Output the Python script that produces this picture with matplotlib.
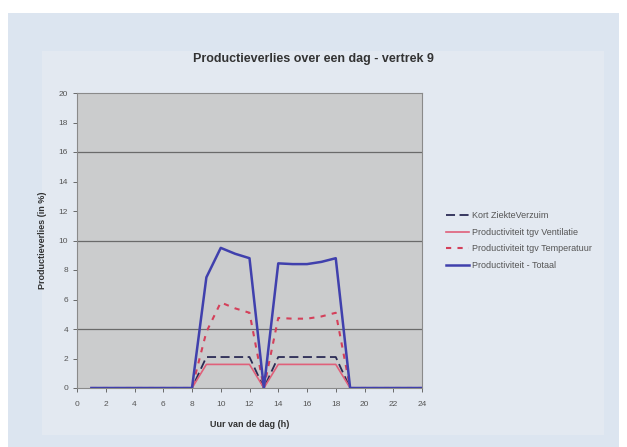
import numpy as np
import matplotlib
matplotlib.use("Agg")
import matplotlib.pyplot as plt
from matplotlib.patches import Rectangle

# Data (hour of the day, loss in %)
uren = list(range(1, 25))
ziekteverzuim = [0, 0, 0, 0, 0, 0, 0, 0, 2.1, 2.1, 2.1, 2.1, 0, 2.1, 2.1, 2.1, 2.1, 2.1, 0, 0, 0, 0, 0, 0]
ventilatie = [0, 0, 0, 0, 0, 0, 0, 0, 1.6, 1.6, 1.6, 1.6, 0, 1.6, 1.6, 1.6, 1.6, 1.6, 0, 0, 0, 0, 0, 0]
temperatuur = [0, 0, 0, 0, 0, 0, 0, 0, 3.8, 5.8, 5.4, 5.1, 0, 4.75, 4.7, 4.7, 4.85, 5.1, 0, 0, 0, 0, 0, 0]
totaal = [0, 0, 0, 0, 0, 0, 0, 0, 7.5, 9.5, 9.1, 8.8, 0, 8.45, 8.4, 8.4, 8.55, 8.8, 0, 0, 0, 0, 0, 0]
gridlijnen = [4, 10, 16]

plt.rcParams['font.family'] = ['Liberation Sans', 'DejaVu Sans']

fig = plt.figure(figsize=(6.27, 4.47), dpi=100, facecolor="white")

# bluish photo background and slightly lighter chart area
fig.patches.append(Rectangle((8 / 627, 0), 611 / 627, 1 - 13 / 447,
                             transform=fig.transFigure, facecolor="#dce5f0",
                             edgecolor="none", zorder=-3))
fig.patches.append(Rectangle((42 / 627, 12 / 447), 562 / 627, 1 - 63 / 447,
                             transform=fig.transFigure, facecolor="#e3e9f1",
                             edgecolor="none", zorder=-2))

ax = fig.add_axes([77 / 627, 59 / 447, 345 / 627, 295 / 447])
ax.set_facecolor("#cbcccd")

for g in gridlijnen:
    ax.axhline(g, color="#6a6a6a", lw=0.9, zorder=1)

ax.plot(uren, ziekteverzuim, color="#2b2b55", lw=1.3, ls=(0, (5, 2.5)),
        label="Kort ZiekteVerzuim", zorder=3)
ax.plot(uren, ventilatie, color="#e0607a", lw=1.2,
        label="Productiviteit tgv Ventilatie", zorder=3)
ax.plot(uren, temperatuur, color="#d4405a", lw=1.5, ls=(0, (2.5, 3)),
        label="Productiviteit tgv Temperatuur", zorder=3)
ax.plot(uren, totaal, color="#4040ad", lw=1.8,
        label="Productiviteit - Totaal", zorder=4)

ax.set_xlim(0, 24)
ax.set_ylim(0, 20)
ax.set_xticks(range(0, 25, 2))
ax.set_yticks(range(0, 21, 2))
ax.tick_params(labelsize=6, colors="#555555", length=3, width=0.6)
ax.tick_params(axis="x", pad=6)
for s in ax.spines.values():
    s.set_color("#8a8a8a")
    s.set_linewidth(0.8)

ax.set_xlabel("Uur van de dag (h)", fontsize=6.5, fontweight="bold", color="#333333", labelpad=9)
ax.set_ylabel("Productieverlies (in %)", fontsize=6.5, fontweight="bold", color="#333333", labelpad=8)
fig.text(313 / 627, 1 - 59 / 447, "Productieverlies over een dag - vertrek 9", ha="center",
         va="center", fontsize=9, fontweight="bold", color="#333333")

ax.legend(loc="center left", bbox_to_anchor=(1.045, 0.5), frameon=False, fontsize=6.5,
          handlelength=2.6, handletextpad=0.3, labelspacing=0.85, labelcolor="#555555")

fig.savefig("out.png", dpi=100, facecolor=fig.get_facecolor())
